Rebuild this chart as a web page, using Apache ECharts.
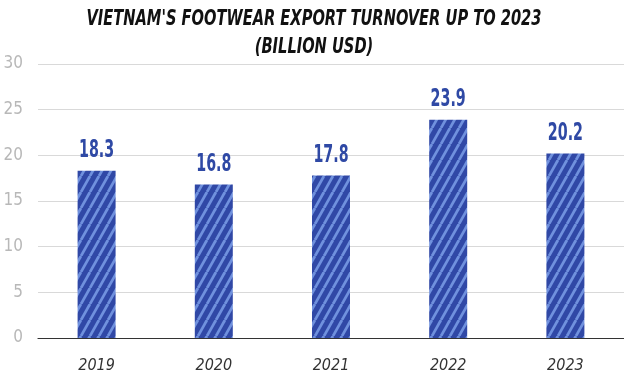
<!DOCTYPE html>
<html>
<head>
<meta charset="utf-8">
<script src="https://cdn.jsdelivr.net/npm/echarts@6/dist/echarts.min.js"></script>
<style>
  html, body { margin: 0; padding: 0; background: #fff; }
  #chart { width: 624px; height: 376px; }
</style>
</head>
<body>
<div id="chart"></div>
<script>
// Export turnover by year, billion USD
const years = ['2019', '2020', '2021', '2022', '2023'];
const turnover = [18.3, 16.8, 17.8, 23.9, 20.2];
const yTicks = [0, 5, 10, 15, 20, 25, 30];
const titleLines = ["VIETNAM'S FOOTWEAR EXPORT TURNOVER UP TO 2023", '(BILLION USD)'];

const condensed = '"Liberation Sans Narrow", "DejaVu Sans Condensed", "Roboto", sans-serif';

// Steep diagonal hatch fill for the bars
function hatchPattern() {
  const w = 9, h = 16;
  const c = document.createElement('canvas');
  c.width = w; c.height = h;
  const ctx = c.getContext('2d');
  ctx.fillStyle = '#3048a6';
  ctx.fillRect(0, 0, w, h);
  ctx.strokeStyle = '#7091de';
  ctx.lineWidth = 2.8;
  for (let k = -1; k <= 1; k++) {
    ctx.beginPath();
    ctx.moveTo(k * w, h);
    ctx.lineTo(k * w + w, 0);
    ctx.stroke();
  }
  return c;
}

// Narrow bold value label above each bar, placed with the axis coordinates
function renderValueLabel(params, api) {
  const pt = api.coord([api.value(0), api.value(1)]);
  return {
    type: 'text',
    x: pt[0],
    y: pt[1] - 8,
    scaleX: 0.66,
    style: {
      text: api.value(1).toFixed(1),
      fill: '#2f49a5',
      font: 'bold 24px ' + condensed,
      align: 'center',
      verticalAlign: 'bottom'
    }
  };
}

const titleFont = 'italic bold 22px ' + condensed;

const chart = echarts.init(document.getElementById('chart'), null, { renderer: 'canvas' });
chart.setOption({
  animation: false,
  graphic: titleLines.map((line, i) => ({
    type: 'text',
    x: 314,
    y: 19 + i * 28,
    scaleX: 0.74,
    style: {
      text: line,
      font: titleFont,
      fill: '#111',
      align: 'center',
      verticalAlign: 'middle'
    }
  })),
  grid: { left: 38, right: -1, top: 64, bottom: 38 },
  xAxis: {
    type: 'category',
    data: years,
    axisLine: { lineStyle: { color: '#333', width: 1.2 } },
    axisTick: { show: false },
    axisLabel: {
      margin: 20,
      color: '#333',
      fontFamily: condensed,
      fontStyle: 'italic',
      fontSize: 16
    }
  },
  yAxis: {
    type: 'value',
    min: yTicks[0],
    max: yTicks[yTicks.length - 1],
    interval: yTicks[1] - yTicks[0],
    axisLine: { show: false },
    axisTick: { show: false },
    splitLine: { lineStyle: { color: '#d9d9d9', width: 1 } },
    axisLabel: {
      margin: 15,
      color: '#b8b8b8',
      fontFamily: condensed,
      fontSize: 17
    }
  },
  series: [{
    type: 'bar',
    data: turnover,
    barWidth: 38,
    itemStyle: { color: { image: hatchPattern(), repeat: 'repeat' } }
  }, {
    type: 'custom',
    data: turnover.map((v, i) => [i, v]),
    renderItem: renderValueLabel,
    z: 5
  }]
});
</script>
</body>
</html>
